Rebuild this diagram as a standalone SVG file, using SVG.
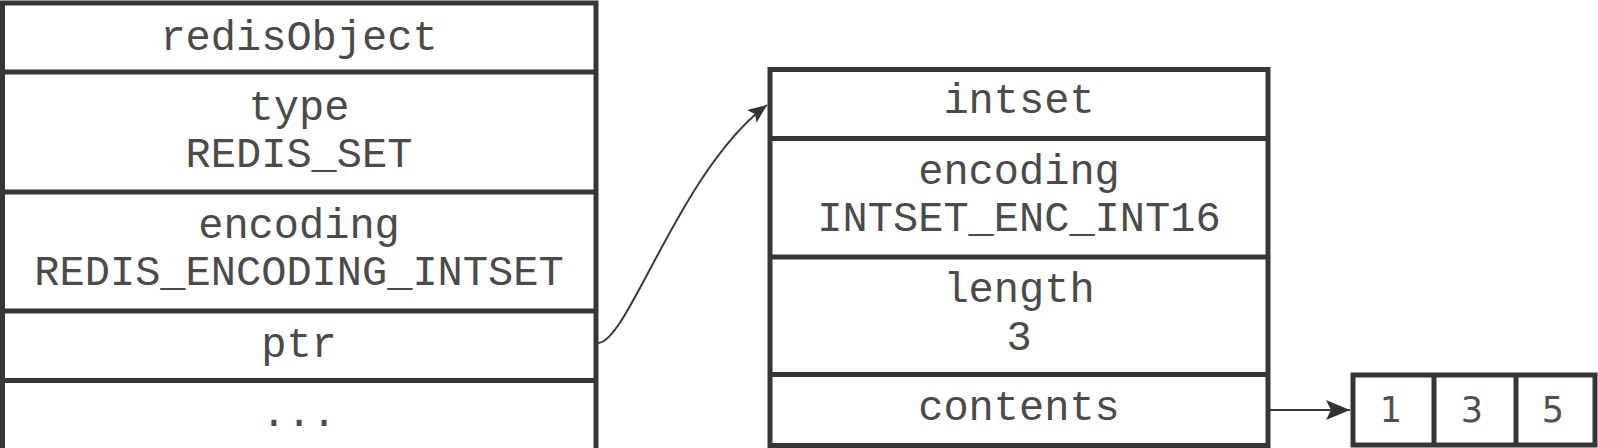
<svg xmlns="http://www.w3.org/2000/svg" width="1598" height="448" viewBox="0 0 1598 448">
<defs>
<style>
.box{fill:#fff;stroke:#363636;stroke-width:5}
.sep{stroke:#363636;stroke-width:5}
.t{font-family:"Liberation Mono","Courier New",monospace;font-size:42px;fill:#4a4a4a;text-anchor:middle}
.n{font-family:"DejaVu Sans","Verdana",sans-serif;font-size:35px;fill:#505050;text-anchor:middle}
.conn{fill:none;stroke:#3a3a3a;stroke-width:2}
</style>
<marker id="ah" markerUnits="userSpaceOnUse" markerWidth="24" markerHeight="20" refX="24" refY="10" orient="auto">
<path d="M0,0 L24,10 L0,20 L5,10 z" fill="#333"/>
</marker>
<marker id="ah2" markerUnits="userSpaceOnUse" markerWidth="19" markerHeight="16" refX="19" refY="8" orient="auto">
<path d="M0,0 L19,8 L0,16 L4,8 z" fill="#333"/>
</marker>
</defs>
<rect width="1598" height="448" fill="#fff"/>
<g id="redisObject">
<rect class="box" x="2.5" y="3" width="593.5" height="452"/>
<line class="sep" x1="2.5" y1="72" x2="596" y2="72"/>
<line class="sep" x1="2.5" y1="192" x2="596" y2="192"/>
<line class="sep" x1="2.5" y1="311" x2="596" y2="311"/>
<line class="sep" x1="2.5" y1="380.5" x2="596" y2="380.5"/>
<text class="t" x="299" y="50">redisObject</text>
<text class="t" x="299" y="120">type</text>
<text class="t" x="299" y="167">REDIS_SET</text>
<text class="t" x="299" y="238">encoding</text>
<text class="t" x="299" y="285">REDIS_ENCODING_INTSET</text>
<text class="t" x="299" y="357">ptr</text>
<text class="t" x="299" y="426">...</text>
</g>
<g id="intset">
<rect class="box" x="770" y="69.5" width="498" height="376"/>
<line class="sep" x1="770" y1="138.5" x2="1268" y2="138.5"/>
<line class="sep" x1="770" y1="257" x2="1268" y2="257"/>
<line class="sep" x1="770" y1="374.5" x2="1268" y2="374.5"/>
<text class="t" x="1019" y="113">intset</text>
<text class="t" x="1019" y="184">encoding</text>
<text class="t" x="1019" y="231">INTSET_ENC_INT16</text>
<text class="t" x="1019" y="302">length</text>
<text class="t" x="1019" y="350">3</text>
<text class="t" x="1019" y="420">contents</text>
</g>
<g id="contents-array">
<rect class="box" x="1353" y="375" width="242" height="70"/>
<line class="sep" x1="1434" y1="375" x2="1434" y2="445"/>
<line class="sep" x1="1516" y1="375" x2="1516" y2="445"/>
<text class="n" x="1391" y="422">1</text>
<text class="n" x="1472" y="422">3</text>
<text class="n" x="1553" y="422">5</text>
</g>
<g id="connectors">
<path class="conn" d="M598,343 C628,343 680,170 767,105" marker-end="url(#ah2)"/>
<line class="conn" x1="1270" y1="410" x2="1350" y2="410" marker-end="url(#ah)"/>
</g>
</svg>
